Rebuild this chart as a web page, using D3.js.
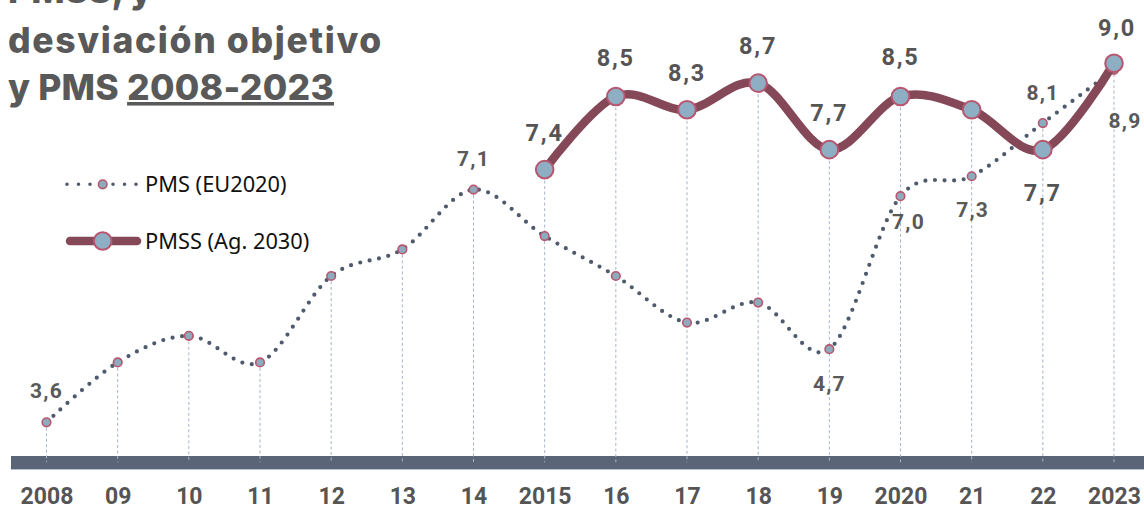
<!DOCTYPE html>
<html><head><meta charset="utf-8">
<script src="https://cdn.jsdelivr.net/npm/d3@7"></script>
<style>
html,body{margin:0;padding:0;background:#fff;}
svg{display:block;}
</style></head>
<body>
<svg id="chart" width="1144" height="508"></svg>
<script>
// ---- data ----
const years = ["2008","2009","2010","2011","2012","2013","2014","2015","2016","2017","2018","2019","2020","2021","2022","2023"];
const tickLabels = ["2008","09","10","11","12","13","14","2015","16","17","18","19","2020","21","22","2023"];
const pms  = [3.6,4.5,4.9,4.5,5.8,6.2,7.1,6.4,5.8,5.1,5.4,4.7,7.0,7.3,8.1,8.9];
const pmss = [null,null,null,null,null,null,null,7.4,8.5,8.3,8.7,7.7,8.5,8.3,7.7,9.0];
const seriesNames = ["PMS (EU2020)","PMSS (Ag. 2030)"];
const titleLines = ["PMSS, y","desviación objetivo","y PMS "];
const titleUnderlined = "2008-2023";

// label placement (which points are labelled and where)
const pmsLabels = {0:[0,-24],6:[0,-24],11:[0,42],12:[8,33],13:[1,41],14:[0,-23],15:[11,58]};
const pmssLabels = {7:[0,-29],8:[0,-30],9:[0,-29],10:[0,-29],11:[0,-29],12:[0,-31],14:[0,51],15:[3,-27]};

const fmt = v => v.toFixed(1).replace(".", ",");

const svg = d3.select("#chart");
const x = d3.scalePoint().domain(years).range([46.5, 1114]);
const y = d3.scaleLinear().domain([3, 9]).range([462.2, 63.2]);

// axis band
svg.append("rect").attr("x", 11).attr("y", 456).attr("width", 1144 - 11).attr("height", 13).attr("fill", "#5a6678");
svg.append("line").attr("x1", 11).attr("x2", 1144).attr("y1", 469.5).attr("y2", 469.5).attr("stroke", "#b7c1cf").attr("stroke-width", 1.2);

// drop lines
svg.append("g").selectAll("line").data(years).join("line")
  .attr("x1", d => x(d)).attr("x2", d => x(d))
  .attr("y1", (d, i) => y(Math.max(pms[i], pmss[i] == null ? -Infinity : pmss[i])))
  .attr("y2", y(3))
  .attr("stroke", "#a7b4cc").attr("stroke-width", 1).attr("stroke-dasharray", "3,2.5");

// x axis labels
const xAxis = d3.axisBottom(x).tickSize(0).tickFormat((d, i) => tickLabels[i]);
const gx = svg.append("g").attr("transform", "translate(0,503.5)").call(xAxis);
gx.select(".domain").remove();
gx.selectAll("text").attr("font-family", "Roboto, sans-serif").attr("font-weight", 700)
  .attr("font-size", 23).attr("fill", "#555555").attr("dy", 0).attr("y", 0);

// PMS line (dotted, smooth)
const pmsData = years.map((d, i) => ({x: d, v: pms[i], i}));
const lineGen = d3.line().x(d => x(d.x)).y(d => y(d.v)).curve(d3.curveCardinal.tension(0));
svg.append("path").datum(pmsData).attr("d", lineGen)
  .attr("fill", "none").attr("stroke", "#4f5b6d").attr("stroke-width", 4.2)
  .attr("stroke-linecap", "round").attr("stroke-dasharray", "0,9.6");

svg.append("g").selectAll("circle").data(pmsData).join("circle")
  .attr("cx", d => x(d.x)).attr("cy", d => y(d.v)).attr("r", 4.3)
  .attr("fill", "#8eaabd").attr("stroke", "#b8566f").attr("stroke-width", 1.6);

// PMSS line
const pmssData = years.map((d, i) => ({x: d, v: pmss[i], i})).filter(d => d.v != null);
svg.append("path").datum(pmssData).attr("d", lineGen)
  .attr("fill", "none").attr("stroke", "#854858").attr("stroke-width", 8.5)
  .attr("stroke-linecap", "round");
svg.append("g").selectAll("circle").data(pmssData).join("circle")
  .attr("cx", d => x(d.x)).attr("cy", d => y(d.v)).attr("r", 8.8)
  .attr("fill", "#8daec3").attr("stroke", "#b8566f").attr("stroke-width", 2);

// data labels
svg.append("g").selectAll("text").data(pmsData.filter(d => pmsLabels[d.i])).join("text")
  .attr("x", d => x(d.x) + pmsLabels[d.i][0])
  .attr("y", d => y(d.v) + pmsLabels[d.i][1])
  .attr("text-anchor", "middle").attr("font-family", "Roboto, sans-serif").attr("font-weight", 700)
  .attr("font-size", 21).attr("letter-spacing", 1.2).attr("fill", "#595959")
  .text(d => fmt(d.v));
svg.append("g").selectAll("text").data(pmssData.filter(d => pmssLabels[d.i])).join("text")
  .attr("x", d => x(d.x) + pmssLabels[d.i][0])
  .attr("y", d => y(d.v) + pmssLabels[d.i][1])
  .attr("text-anchor", "middle").attr("font-family", "Roboto, sans-serif").attr("font-weight", 700)
  .attr("font-size", 23.5).attr("letter-spacing", 1.8).attr("fill", "#555555")
  .text(d => fmt(d.v));

// legend
const lg = svg.append("g");
lg.append("line").attr("x1", 67).attr("x2", 137).attr("y1", 184.3).attr("y2", 184.3)
  .attr("stroke", "#4f5b6d").attr("stroke-width", 3.6).attr("stroke-linecap", "round").attr("stroke-dasharray", "0,11.5");
lg.append("circle").attr("cx", 102.7).attr("cy", 184.3).attr("r", 4.3)
  .attr("fill", "#8eaabd").attr("stroke", "#b8566f").attr("stroke-width", 1.6);
lg.append("line").attr("x1", 70).attr("x2", 137).attr("y1", 241).attr("y2", 241)
  .attr("stroke", "#854858").attr("stroke-width", 8.5).attr("stroke-linecap", "round");
lg.append("circle").attr("cx", 102.7).attr("cy", 241).attr("r", 8.8)
  .attr("fill", "#8daec3").attr("stroke", "#b8566f").attr("stroke-width", 2);
lg.selectAll("text").data(seriesNames).join("text")
  .attr("x", 145).attr("y", (d, i) => i === 0 ? 192 : 249)
  .attr("font-family", "'Noto Sans', sans-serif").attr("font-size", 21.8).attr("fill", "#111111")
  .text(d => d);

// title
const tg = svg.append("g").attr("font-family", "Inter, sans-serif").attr("font-weight", 800)
  .attr("font-size", 35.5).attr("fill", "#595959");
tg.append("text").attr("x", 8).attr("y", 3).text(titleLines[0]);
const t2 = tg.append("text").attr("x", 8).attr("y", 53).text(titleLines[1]);
const t3 = tg.append("text").attr("x", 8).attr("y", 100);
t3.append("tspan").text(titleLines[2]);
t3.append("tspan").attr("text-decoration", "underline").text(titleUnderlined);
// stretch title letter spacing to reach the reference widths
function fit(sel, target) {
  const n = sel.text().length;
  const w = sel.node().getComputedTextLength();
  sel.attr("letter-spacing", Math.max(0, (target - w) / n));
}
fit(t2, 375);
fit(t3, 326);
</script>
</body></html>
